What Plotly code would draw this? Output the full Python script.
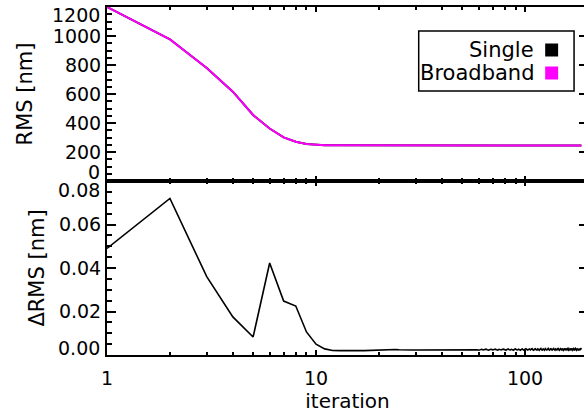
import math
import plotly.graph_objects as go

# ---------------- data ----------------
iterations = list(range(1, 187))

rms_head = [1200, 977, 779, 616, 455, 362, 301, 271, 255, 248, 246.5, 246.0, 245.8, 245.6]
rms_plateau = 245.5
rms_broadband = rms_head + [rms_plateau] * (len(iterations) - len(rms_head))

drms = [
    0.0490, 0.0720, 0.0360, 0.0175, 0.0083, 0.0423, 0.0248, 0.0225, 0.0106, 0.0050,
    0.0028, 0.0021, 0.0020, 0.0019, 0.0019, 0.0020, 0.0020, 0.0021, 0.0023, 0.0025,
    0.0026, 0.0026, 0.0026, 0.0025, 0.0024, 0.0023, 0.0022, 0.0022, 0.0023, 0.0023,
    0.0023, 0.0024, 0.0024, 0.0023, 0.0024, 0.0025, 0.0024, 0.0023, 0.0024, 0.0025, 0.0026, 0.0025, 0.0024,
    0.0025, 0.0024, 0.0023, 0.0024, 0.0026, 0.0025, 0.0023, 0.0024, 0.0025, 0.0023, 0.0025, 0.0026, 0.0024,
    0.0023, 0.0025, 0.0024, 0.0022, 0.0025, 0.0026, 0.0023, 0.0024, 0.0027, 0.0024, 0.0022, 0.0025, 0.0026,
    0.0023, 0.0025, 0.0027, 0.0024, 0.0022, 0.0026, 0.0025, 0.0023, 0.0026, 0.0027, 0.0024, 0.0022, 0.0026,
    0.0028, 0.0024, 0.0023, 0.0026, 0.0025, 0.0022, 0.0027, 0.0028, 0.0024, 0.0023, 0.0027, 0.0025, 0.0022,
    0.0026, 0.0028, 0.0024, 0.0022, 0.0027, 0.0029, 0.0025, 0.0023, 0.0026, 0.0028, 0.0023, 0.0025, 0.0029,
    0.0024, 0.0022, 0.0027, 0.0029, 0.0024, 0.0023, 0.0028, 0.0026, 0.0022, 0.0027, 0.0030, 0.0024, 0.0023,
    0.0028, 0.0025, 0.0022, 0.0029, 0.0027, 0.0023, 0.0026, 0.0030, 0.0024, 0.0022, 0.0028, 0.0029, 0.0024,
    0.0023, 0.0027, 0.0030, 0.0025, 0.0022, 0.0028, 0.0026, 0.0023, 0.0029, 0.0030, 0.0024, 0.0022, 0.0027,
    0.0029, 0.0025, 0.0023, 0.0030, 0.0027, 0.0022, 0.0026, 0.0031, 0.0025, 0.0023, 0.0028, 0.0030, 0.0024,
    0.0022, 0.0029, 0.0027, 0.0023, 0.0026, 0.0031, 0.0025, 0.0022, 0.0028, 0.0030, 0.0024, 0.0023, 0.0029,
    0.0031, 0.0025, 0.0022, 0.0027, 0.0030, 0.0024, 0.0023, 0.0029, 0.0026, 0.0022, 0.0028, 0.0031, 0.0025,
]
rms_single = [b + d for b, d in zip(rms_broadband, drms)]

x_range = [1, 200]
x_major = [1, 10, 100]
x_minor = [2, 3, 4, 5, 6, 7, 8, 9, 20, 30, 40, 50, 60, 70, 80, 90, 200]
rms_ticks = [200, 400, 600, 800, 1000]
rms_end_ticks = [0, 1200]
drms_ticks = [0.02, 0.04, 0.06]
drms_end_ticks = [0.00, 0.08]

series_names = ["Single", "Broadband"]
series_colors = ["#000000", "#ff00ff"]

FONT = "DejaVu Sans"
FS = 19
FT = 21

# the figure is slightly wider than the 584 px window, so the right frame falls just off-page
W, H = 590, 417
ML, MR, MT, MB = 107, 0, 7, 62
PW, PH = W - ML - MR, H - MT - MB


def px_x(p):
    return (p - ML) / PW


def px_y(p):
    return (H - MB - p) / PH


fig = go.Figure()
fig.add_trace(go.Scatter(x=iterations, y=rms_single, mode="lines", name=series_names[0],
                         line=dict(color=series_colors[0], width=2), xaxis="x2", yaxis="y2",
                         showlegend=False))
fig.add_trace(go.Scatter(x=iterations, y=rms_broadband, mode="lines", name=series_names[1],
                         line=dict(color=series_colors[1], width=2), xaxis="x2", yaxis="y2",
                         showlegend=False))
fig.add_trace(go.Scatter(x=iterations, y=drms, mode="lines", name="ΔRMS",
                         line=dict(color="#000000", width=1.6), xaxis="x", yaxis="y",
                         showlegend=False))

xcommon = dict(type="log", range=[math.log10(x_range[0]), math.log10(x_range[1])],
               showline=True, linecolor="black", linewidth=2,
               mirror="ticks", ticks="inside", ticklen=5, tickwidth=1.5, tickcolor="black",
               tickvals=x_major, showgrid=False, zeroline=False,
               minor=dict(tickvals=x_minor, ticks="inside", ticklen=3, tickwidth=1.5,
                          tickcolor="black", showgrid=False))

ycommon = dict(showline=True, linecolor="black", linewidth=2, mirror="ticks", ticks="inside",
               ticklen=9, tickwidth=1.5, tickcolor="black", showgrid=False, zeroline=False,
               tickfont=dict(family=FONT, size=FS, color="black"))

fig.update_layout(
    width=W, height=H,
    margin=dict(l=ML, r=MR, t=MT, b=MB),
    paper_bgcolor="white", plot_bgcolor="white",
    font=dict(family=FONT, size=FS, color="black"),
    xaxis=dict(**xcommon, anchor="y", domain=[0, 1],
               tickfont=dict(family=FONT, size=FS, color="black"),
               ticklabelstandoff=5,
               title=dict(text="iteration", font=dict(family=FONT, size=20), standoff=3)),
    xaxis2=dict(**xcommon, anchor="y2", domain=[0, 1], showticklabels=False, matches="x"),
    yaxis=dict(**ycommon, domain=[0, 0.5], range=[0, 0.08],
               tickvals=drms_ticks, ticktext=[f"{v:.2f}" for v in drms_ticks],
               minor=dict(dtick=0.005, ticks="inside", ticklen=4.5, tickwidth=1.5,
                          tickcolor="black", showgrid=False),
               title=dict(text="ΔRMS [nm]", font=dict(family=FONT, size=FT), standoff=9)),
    yaxis2=dict(**ycommon, domain=[0.5, 1], range=[0, 1200],
                tickvals=rms_ticks, ticktext=[str(v) for v in rms_ticks],
                minor=dict(dtick=50, ticks="inside", ticklen=4.5, tickwidth=1.5,
                           tickcolor="black", showgrid=False),
                title=dict(text="RMS [nm]", font=dict(family=FONT, size=FT), standoff=14)),
)

# end-of-axis labels, nudged inward as in the original
ann = []
for v, sh in zip(rms_end_ticks, [9, -8]):
    ann.append(dict(x=0, xref="paper", y=v, yref="y2", text=str(v), showarrow=False,
                    xanchor="right", yanchor="middle", xshift=-5, yshift=sh,
                    font=dict(family=FONT, size=FS, color="black")))
for v, sh in zip(drms_end_ticks, [7, -9]):
    ann.append(dict(x=0, xref="paper", y=v, yref="y", text=f"{v:.2f}", showarrow=False,
                    xanchor="right", yanchor="middle", xshift=-5, yshift=sh,
                    font=dict(family=FONT, size=FS, color="black")))

# legend box (text right-aligned, swatch to the right)
shapes = [dict(type="rect", xref="paper", yref="paper", x0=px_x(420), x1=px_x(576),
               y0=px_y(91), y1=px_y(31), line=dict(color="black", width=1.5),
               fillcolor="white", layer="above")]
row_y = [50, 73]
for name, col, ry in zip(series_names, series_colors, row_y):
    ann.append(dict(x=px_x(538), xref="paper", y=px_y(ry), yref="paper", text=name,
                    showarrow=False, xanchor="right", yanchor="middle",
                    font=dict(family=FONT, size=21, color="black")))
    shapes.append(dict(type="rect", xref="paper", yref="paper", x0=px_x(547), x1=px_x(560),
                       y0=px_y(ry + 6.5), y1=px_y(ry - 6.5), line=dict(width=0),
                       fillcolor=col, layer="above"))
fig.update_layout(annotations=ann, shapes=shapes)

fig.write_html("out.html", config={"displayModeBar": False},
               post_script="document.body.style.margin='0';document.body.style.overflow='hidden';")
